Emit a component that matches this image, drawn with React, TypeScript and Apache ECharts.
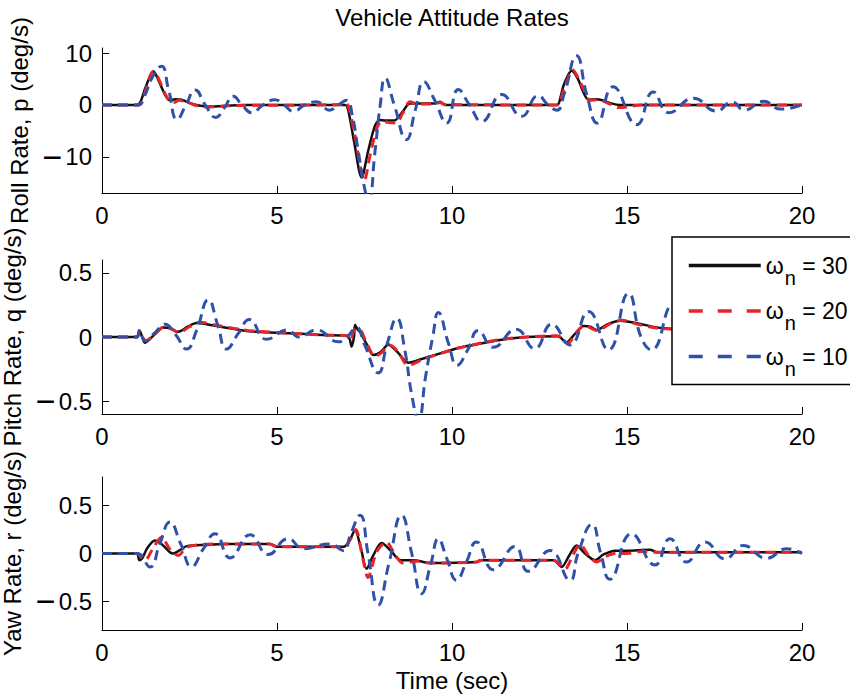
import React, { useEffect, useRef } from 'react';
import * as echarts from 'echarts';

// ---------- texts ----------
const chartTitle = 'Vehicle Attitude Rates';
const xAxisTitle = 'Time (sec)';
const yAxisTitles = ['Roll Rate, p (deg/s)', 'Pitch Rate, q (deg/s)', 'Yaw Rate, r (deg/s)'];
const omegaValues = ['30', '20', '10'];

// ---------- axes ----------
const xTickInterval = 5;
const xRange = [0, 20];
const rollRange = [-17, 11];
const pitchRange = [-0.6, 0.6];
const yawRange = [-0.8, 0.8];
const rollTicks = [-10, 0, 10];
const pitchTicks = [-0.5, 0, 0.5];
const yawTicks = [-0.5, 0, 0.5];

// ---------- data: [time (s), rate (deg/s)] ----------
const roll30: [number, number][] = [
  [0, 0], [1.0, 0], [1.1, 0.6], [1.25, 3.5], [1.47, 6.5], [1.6, 5], [1.8, 2], [1.94, 0.9], [2.1, 1.1], [2.28, 1.0],
  [2.5, 0.4], [2.7, 0], [3.0, -0.3], [3.5, -0.2], [4, 0], [6.95, 0], [7.05, -1.5], [7.2, -7], [7.42, -14], [7.6, -9],
  [7.8, -4], [7.94, -2.9], [8.1, -3], [8.35, -3.0], [8.6, -1.2], [8.8, 0.3], [9.5, 0.3], [9.66, 0.6], [9.8, 0],
  [13.0, 0], [13.1, 1.5], [13.2, 4], [13.42, 6.6], [13.6, 5], [13.75, 2.5], [13.9, 1.0], [14.1, 1.1], [14.3, 0.9],
  [14.55, 0.3], [14.8, 0], [20, 0],
];
const roll20: [number, number][] = [
  [0, 0], [1.05, 0], [1.15, 0.8], [1.3, 4], [1.45, 6.4], [1.6, 5.3], [1.8, 2.2], [1.95, 0.6], [2.05, 0.5], [2.2, 0.9],
  [2.45, 0.5], [2.7, -0.1], [3.0, -0.4], [3.5, -0.2], [4, -0.1], [6.85, 0.1], [6.95, 0.5], [7.05, -0.5], [7.2, -5],
  [7.5, -14.5], [7.65, -10], [7.85, -4.5], [8.0, -3.2], [8.2, -3.4], [8.4, -3.5], [8.6, -1.5], [8.8, 0.6], [9.0, 0.2],
  [9.5, 0.2], [9.65, 0.5], [9.8, 0.1], [13.0, 0], [13.1, 1], [13.25, 4], [13.45, 6.8], [13.6, 5.3], [13.8, 2.5],
  [13.95, 0.9], [14.2, 1.0], [14.5, 0.2], [14.75, -0.5], [15.0, -0.4], [15.4, 0], [20, 0],
];
const roll10: [number, number][] = [
  [0, 0], [1.04, 0], [1.2, 1.5], [1.45, 5.5], [1.7, 7.5], [1.9, 3], [2.15, -2.8], [2.4, 0], [2.66, 2.9], [2.95, 0],
  [3.25, -2.4], [3.5, -0.5], [3.75, 1.7], [4.0, 0], [4.28, -1.5], [4.6, 0], [4.94, 1.0], [5.2, 0], [5.47, -1.2],
  [5.8, 0], [6.13, 0.6], [6.5, -1.0], [6.75, 0], [6.99, 0.9], [7.15, -2], [7.3, -8], [7.5, -16], [7.62, -18.5],
  [7.8, -9], [7.95, 0], [8.09, 5.2], [8.35, 0], [8.7, -6.7], [8.95, -1], [9.2, 4.5], [9.5, 1], [9.85, -3.5],
  [10.18, 3.0], [10.5, 0], [10.85, -3.2], [11.42, 2.0], [11.99, -2.2], [12.46, 1.8], [12.75, 0], [13.0, -1.0],
  [13.2, 2], [13.56, 9.5], [13.85, 2], [14.15, -3.5], [14.6, 3.5], [15.28, -3.8], [15.75, 2.5], [16.2, -1.5],
  [16.9, 1.3], [17.55, -1.2], [18.0, 0.6], [18.35, -1.0], [18.9, 0.7], [19.4, -0.8], [20, 0],
];

const pitch30: [number, number][] = [
  [0, 0], [0.99, 0], [1.07, 0.05], [1.15, 0.0], [1.23, -0.045], [1.5, 0.02], [1.75, 0.075], [1.94, 0.07], [2.18, 0.04],
  [2.45, 0.08], [2.7, 0.11], [3.0, 0.1], [3.28, 0.085], [3.94, 0.055], [4.42, 0.04], [5.37, 0.03], [6.32, 0.015],
  [6.99, 0.01], [7.08, -0.02], [7.13, -0.075], [7.2, 0.0], [7.23, 0.095], [7.3, 0.06], [7.37, 0.04], [7.55, -0.05],
  [7.75, -0.14], [7.95, -0.12], [8.18, -0.06], [8.45, -0.12], [8.75, -0.2], [9.18, -0.167], [9.66, -0.128],
  [10.13, -0.089], [10.61, -0.062], [11.37, -0.023], [12.14, 0.0], [13.04, 0.005], [13.26, -0.044], [13.5, 0.02],
  [13.76, 0.086], [13.95, 0.08], [14.13, 0.055], [14.45, 0.1], [14.8, 0.127], [15.28, 0.107], [15.85, 0.075],
  [16.23, 0.065], [17, 0.04], [18, 0.02], [19, 0.01], [20, 0],
];
const pitch20: [number, number][] = [
  [0, 0], [1.0, 0], [1.08, 0.04], [1.25, -0.03], [1.5, 0.02], [1.78, 0.08], [2.0, 0.06], [2.2, 0.035], [2.5, 0.08],
  [2.8, 0.115], [3.3, 0.09], [3.94, 0.06], [4.42, 0.045], [5.37, 0.03], [6.32, 0.015], [7.0, 0.01], [7.1, -0.03],
  [7.2, 0.05], [7.35, 0.06], [7.55, -0.04], [7.8, -0.15], [8.0, -0.12], [8.2, -0.06], [8.45, -0.11], [8.75, -0.22],
  [9.2, -0.17], [9.66, -0.13], [10.13, -0.09], [10.61, -0.06], [11.37, -0.02], [12.14, 0.0], [13.0, 0.01],
  [13.3, -0.05], [13.55, 0.03], [13.78, 0.09], [14.15, 0.05], [14.5, 0.1], [14.85, 0.13], [15.3, 0.1], [15.85, 0.07],
  [16.3, 0.06], [17, 0.04], [18, 0.02], [20, 0],
];
const pitch10: [number, number][] = [
  [0, 0], [0.99, 0], [1.07, 0.05], [1.23, -0.03], [1.5, 0.03], [1.8, 0.1], [2.1, 0.02], [2.42, -0.094], [2.7, 0.05],
  [3.04, 0.29], [3.3, 0.1], [3.56, -0.094], [3.9, 0.03], [4.21, 0.137], [4.7, -0.018], [5.3, 0.055], [5.62, 0.0],
  [6.13, 0.055], [6.75, -0.037], [7.0, 0.0], [7.27, 0.075], [7.5, -0.06], [7.89, -0.28], [8.15, -0.05], [8.42, 0.146],
  [8.65, -0.1], [8.85, -0.45], [9.04, -0.65], [9.25, -0.3], [9.45, 0.0], [9.61, 0.19], [9.9, -0.05], [10.15, -0.22],
  [10.45, -0.1], [10.75, 0.05], [11.18, -0.08], [11.83, 0.06], [12.36, -0.09], [12.85, 0.1], [13.37, -0.062],
  [13.9, 0.198], [14.47, -0.1], [15.04, 0.34], [15.4, 0.0], [15.7, -0.1], [16.3, 0.25], [16.9, -0.15], [17.5, 0.15],
  [18.1, -0.1], [18.7, 0.08], [19.3, -0.05], [20, 0],
];

const yaw30: [number, number][] = [
  [0, 0], [0.99, 0], [1.07, -0.07], [1.15, -0.05], [1.3, 0.06], [1.51, 0.137], [1.7, 0.1], [1.94, 0.014], [2.04, 0.0],
  [2.2, 0.03], [2.42, 0.077], [3.0, 0.09], [3.47, 0.1], [4.8, 0.1], [5.0, 0.07], [6.9, 0.07], [7.05, 0.12],
  [7.23, 0.24], [7.4, 0.05], [7.56, -0.16], [7.75, -0.02], [7.99, 0.11], [8.25, 0.03], [8.51, -0.067], [8.99, -0.074],
  [9.37, -0.1], [10.7, -0.09], [10.8, -0.07], [12.9, -0.07], [13.13, -0.14], [13.35, -0.02], [13.56, 0.084],
  [13.8, 0.0], [14.09, -0.07], [14.33, -0.01], [14.66, 0.03], [15.0, 0.03], [15.66, 0.04], [15.85, 0.014], [20, 0.014],
];
const yaw20: [number, number][] = [
  [0, 0], [1.0, 0], [1.1, -0.03], [1.23, -0.07], [1.45, 0.05], [1.7, 0.17], [1.95, 0.04], [2.18, -0.02], [2.4, 0.06],
  [2.7, 0.09], [3.47, 0.1], [4.8, 0.1], [5.0, 0.07], [6.9, 0.07], [7.1, 0.15], [7.25, 0.25], [7.45, -0.05],
  [7.6, -0.25], [7.85, 0.02], [8.13, 0.12], [8.35, 0.0], [8.6, -0.1], [9.0, -0.08], [9.4, -0.1], [10.7, -0.09],
  [10.85, -0.07], [12.9, -0.07], [13.23, -0.16], [13.45, -0.02], [13.66, 0.095], [13.9, -0.02], [14.14, -0.09],
  [14.4, -0.03], [14.66, 0.0], [15.0, 0.0], [15.4, 0.02], [15.8, 0.014], [20, 0.014],
];
const yaw10: [number, number][] = [
  [0, 0], [1.0, 0], [1.37, -0.14], [1.65, 0.1], [1.94, 0.33], [2.25, 0.1], [2.56, -0.137], [2.9, 0.05], [3.23, 0.207],
  [3.66, -0.046], [4.23, 0.196], [4.75, -0.01], [5.32, 0.154], [5.75, 0.05], [6.51, 0.1], [6.9, 0.03], [7.1, 0.2],
  [7.37, 0.4], [7.6, 0.0], [7.89, -0.54], [8.2, -0.1], [8.56, 0.4], [8.85, 0.0], [9.13, -0.42], [9.4, -0.1],
  [9.61, 0.154], [9.85, -0.05], [10.13, -0.28], [10.4, -0.1], [10.7, 0.12], [11.18, -0.17], [11.8, 0.074],
  [12.18, -0.186], [12.8, 0.032], [13.37, -0.28], [13.6, 0.0], [14.0, 0.305], [14.25, 0.0], [14.51, -0.27],
  [15.13, 0.207], [15.8, -0.12], [16.23, 0.154], [16.7, -0.09], [17.23, 0.12], [17.8, -0.056], [18.32, 0.084],
  [18.99, -0.05], [19.56, 0.05], [20, 0],
];

const FONT = '"Liberation Sans", Arial, Helvetica, sans-serif';
const FS = 24;
const seriesColors = ['#111111', '#e8232a', '#2f52a8'];
const seriesWidths = [2.5, 3, 3];
const seriesSmooth = [0.3, 0.3, 0.5];

export default function App() {
  const ref = useRef<HTMLDivElement>(null);

  useEffect(() => {
    document.body.style.margin = '0';
    if (!ref.current) return;
    const chart = echarts.init(ref.current, undefined, { renderer: 'svg' });

    const grids = [
      { left: 102, top: 48, width: 700, height: 145 },
      { left: 102, top: 260, width: 700, height: 154 },
      { left: 102, top: 477, width: 700, height: 153 },
    ];
    const ranges = [rollRange, pitchRange, yawRange];
    const ticks = [rollTicks, pitchTicks, yawTicks];
    const groups = [
      [roll30, roll20, roll10],
      [pitch30, pitch20, pitch10],
      [yaw30, yaw20, yaw10],
    ];
    const seriesNames = omegaValues.map((v) => 'ωn = ' + v);
    const minusFmt = (v: number) => (v < 0 ? '{m|\u2212}{d|' + String(-v) + '}' : '{d|' + String(v) + '}');

    const xAxis = grids.map((_, i) => ({
      type: 'value',
      gridIndex: i,
      min: xRange[0],
      max: xRange[1],
      interval: xTickInterval,
      position: 'bottom',
      axisLine: { onZero: false, lineStyle: { color: '#000', width: 1 } },
      axisTick: { inside: true, length: 7, lineStyle: { color: '#000', width: 1 } },
      axisLabel: { color: '#000', fontSize: FS, fontFamily: FONT, margin: 10 },
      splitLine: { show: false },
      ...(i === 2
        ? {
            name: xAxisTitle,
            nameLocation: 'middle',
            nameGap: 38,
            nameTextStyle: { color: '#000', fontSize: FS, fontFamily: FONT },
          }
        : {}),
    }));

    const yAxis = grids.map((_, i) => ({
      type: 'value',
      gridIndex: i,
      min: ranges[i][0],
      max: ranges[i][1],
      position: 'left',
      name: yAxisTitles[i],
      nameLocation: 'middle',
      nameRotate: 90,
      nameGap: 69,
      nameTextStyle: { color: '#000', fontSize: FS, fontFamily: FONT },
      axisLine: { show: true, onZero: false, lineStyle: { color: '#000', width: 1 } },
      axisTick: { show: true, inside: true, length: 7, customValues: ticks[i], lineStyle: { color: '#000', width: 1 } },
      axisLabel: {
        color: '#000',
        fontSize: FS,
        fontFamily: FONT,
        margin: 10,
        customValues: ticks[i],
        formatter: minusFmt,
        rich: {
          m: { fontSize: 34, fontFamily: FONT, color: '#000', padding: [0, 3, 0, 0] },
          d: { fontSize: FS, fontFamily: FONT, color: '#000' },
        },
      },
      splitLine: { show: false },
    }));

    const series: any[] = [];
    groups.forEach((grp, gi) => {
      grp.forEach((data, si) => {
        series.push({
          type: 'line',
          name: seriesNames[si],
          xAxisIndex: gi,
          yAxisIndex: gi,
          data,
          symbol: 'none',
          showSymbol: false,
          smooth: seriesSmooth[si],
          clip: true,
          z: 2 + si,
          itemStyle: { color: seriesColors[si] },
          lineStyle: {
            color: seriesColors[si],
            width: seriesWidths[si],
            type: si === 0 ? 'solid' : [10, 6],
            cap: 'butt',
          },
        });
      });
    });

    chart.setOption({
      animation: false,
      backgroundColor: '#fff',
      textStyle: { fontFamily: FONT },
      title: {
        text: chartTitle,
        left: 452,
        top: 5,
        padding: 0,
        textAlign: 'center',
        textStyle: { color: '#000', fontSize: FS, fontWeight: 'normal', fontFamily: FONT },
      },
      legend: {
        data: seriesNames.map((n, i) => ({
          name: n,
          lineStyle: { width: 3.5, type: i === 0 ? 'solid' : [14, 15] },
        })),
        orient: 'vertical',
        left: 672,
        top: 237,
        padding: [17, 60, 6, 15],
        itemWidth: 72,
        itemHeight: 14,
        itemGap: 12,
        backgroundColor: '#fff',
        borderColor: '#000',
        borderWidth: 1.5,
        borderRadius: 0,
        selectedMode: false,
        itemStyle: { opacity: 0 },
        z: 10,
        formatter: (name: string) => '{w|ω}{n|n}{w| = ' + name.split('= ')[1] + '}',
        textStyle: {
          color: '#000',
          fontSize: 22,
          fontFamily: FONT,
          rich: {
            w: { fontSize: 23, fontFamily: FONT, color: '#000' },
            n: { fontSize: 20, fontFamily: FONT, color: '#000', padding: [24, 0, 0, 1] },
          },
        },
      },
      grid: grids.map((g) => ({ ...g, containLabel: false, outerBoundsMode: 'none' })),
      xAxis,
      yAxis,
      series,
    } as any);

    return () => chart.dispose();
  }, []);

  return <div ref={ref} style={{ width: 850, height: 696 }} />;
}
